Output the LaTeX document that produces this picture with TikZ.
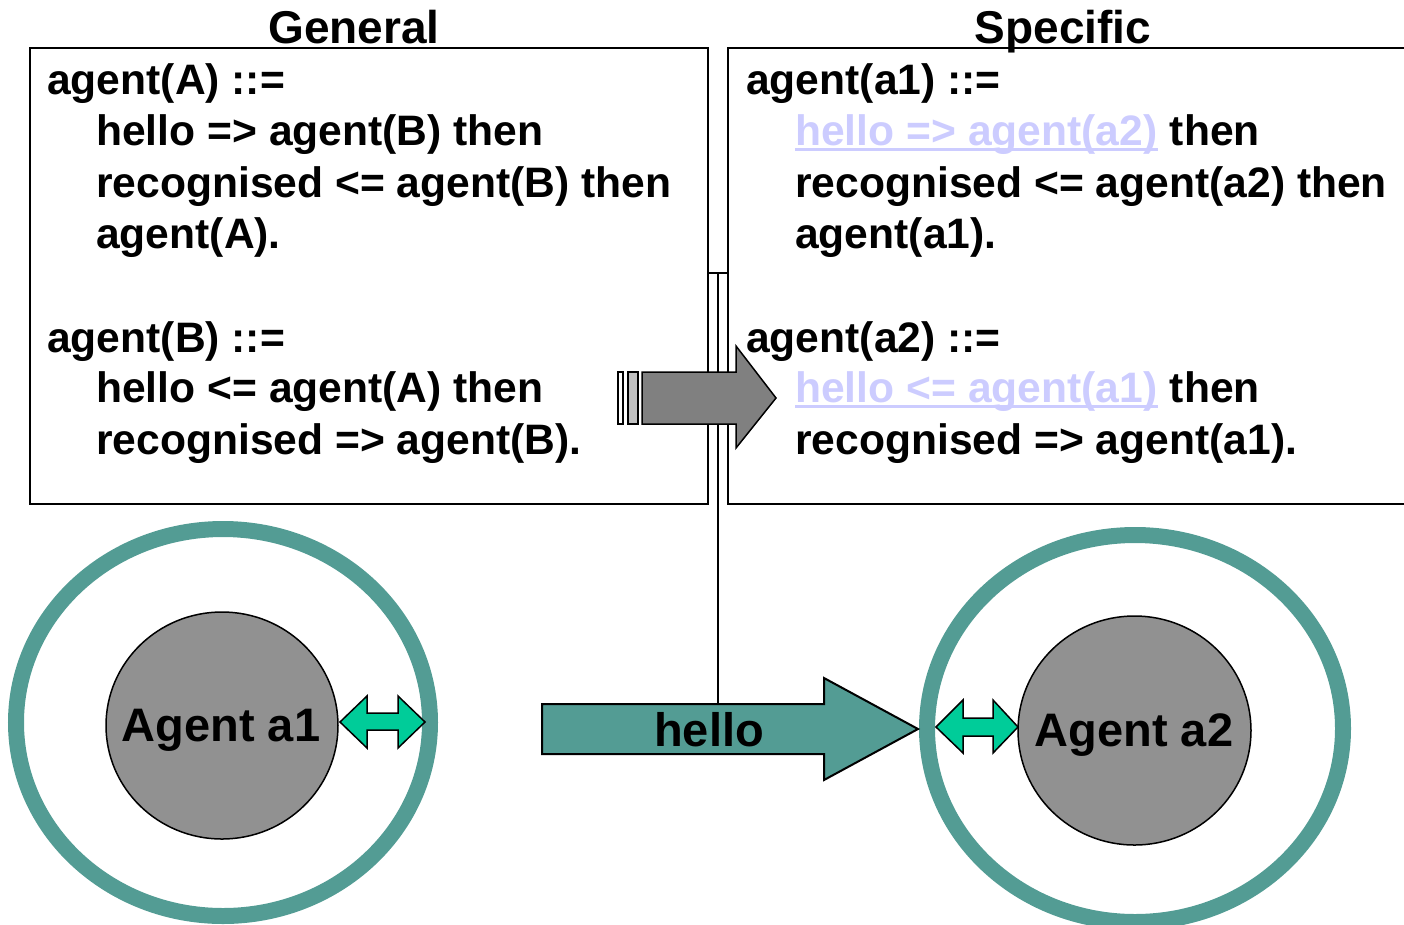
\documentclass[tikz,border=0pt]{standalone}
\usepackage{fontspec}
\setmainfont{Liberation Sans}
\usepackage{tikz}
\usepackage{xcolor}

\definecolor{teal}{RGB}{83,156,148}
\definecolor{mint}{RGB}{0,204,153}
\definecolor{agentgrey}{RGB}{145,145,145}
\definecolor{arrowgrey}{RGB}{128,128,128}
\definecolor{stripegrey}{RGB}{192,192,192}
\definecolor{lavender}{RGB}{204,204,255}

\tikzset{
    code/.style={font=\fontsize{42.6}{50}\selectfont\bfseries, anchor=base west, inner sep=0pt},
    heading/.style={font=\fontsize{46}{54}\selectfont\bfseries, anchor=base, inner sep=0pt},
    agentname/.style={font=\fontsize{47}{56}\selectfont\bfseries, inner sep=0pt, text depth=0pt},
    spec/.style={draw=black, line width=2pt},
    swap/.style={draw=black, line width=1.5pt, fill=mint},
}

\begin{document}
\begin{tikzpicture}[x=1pt, y=-1pt]
    \useasboundingbox (0,0) rectangle (1404,924);

    % the two program boxes
    \draw[spec] (30,48) rectangle (708,504);
    \draw[spec] (728,48) rectangle (1420,504);
    \node[heading] (general) at (354,43) {General};
    \node[heading] (specific) at (1063,43) {Specific};

    % link from the boxes down to the message
    \coordinate (joinL) at (708,273);
    \coordinate (joinR) at (728,273);
    \coordinate (join) at (718,273);
    \coordinate (msgtop) at (718,704);
    \draw[line width=2pt] (joinL) -- (joinR);
    \draw[line width=2pt] (join) -- (msgtop);

    % general agents
    \node[code] (gA) at (47,94) {agent(A) ::=};
    \node[code] (gA1) at (96,145) {hello => agent(B) then};
    \node[code] (gA2) at (96,197) {recognised <= agent(B) then};
    \node[code] (gA3) at (96,248) {agent(A).};
    \node[code] (gB) at (47,352) {agent(B) ::=};
    \node[code] (gB1) at (96,402) {hello <= agent(A) then};
    \node[code] (gB2) at (96,454) {recognised => agent(B).};

    % specific agents
    \node[code] (sA) at (746,94) {agent(a1) ::=};
    \node[code, lavender] (sA1) at (795,145) {hello => agent(a2)};
    \node[code] (sA1t) at ([xshift=12pt]sA1.base east) {then};
    \node[code] (sA2) at (795,197) {recognised <= agent(a2) then};
    \node[code] (sA3) at (795,248) {agent(a1).};
    \node[code] (sB) at (746,352) {agent(a2) ::=};
    \node[code, lavender] (sB1) at (795,402) {hello <= agent(a1)};
    \node[code] (sB1t) at ([xshift=12pt]sB1.base east) {then};
    \node[code] (sB2) at (795,454) {recognised => agent(a1).};
    \draw[lavender, line width=3pt] ([yshift=-4pt]sA1.base west) -- ([yshift=-4pt]sA1.base east);
    \draw[lavender, line width=3pt] ([yshift=-4pt]sB1.base west) -- ([yshift=-4pt]sB1.base east);

    % instantiation arrow
    \draw[line width=1.5pt, fill=white] (618,372) rectangle (623,424);
    \draw[line width=1.5pt, fill=stripegrey] (628,372) rectangle (638,424);
    \draw[line width=1.5pt, fill=arrowgrey] (642,372) -- (736,372) -- (736,346) -- (776,398)
        -- (736,448) -- (736,424) -- (642,424) -- cycle;

    % agent a1
    \draw[teal, line width=16pt] (223,722.5) ellipse [x radius=207, y radius=193.5];
    \draw[line width=1.5pt, fill=agentgrey] (222,725.5) ellipse [x radius=116, y radius=113.5];
    \node[agentname] (a1) at (221,725.5) {Agent a1};
    \draw[swap] (340,722) -- (367,696) -- (367,713) -- (398,713) -- (398,696) -- (425,722)
        -- (398,748) -- (398,730) -- (367,730) -- (367,748) -- cycle;

    % agent a2
    \draw[teal, line width=16pt] (1135,728.5) ellipse [x radius=208, y radius=193.5];
    \draw[line width=1.5pt, fill=agentgrey] (1134.5,730.5) ellipse [x radius=116.5, y radius=114.5];
    \node[agentname] (a2) at (1134,730.5) {Agent a2};
    \draw[swap] (936,727) -- (963,700) -- (963,718) -- (993,718) -- (993,700) -- (1018,727)
        -- (993,753) -- (993,736) -- (963,736) -- (963,753) -- cycle;

    % the hello message
    \draw[line width=2pt, fill=teal] (542,704) -- (824,704) -- (824,678) -- (918,729)
        -- (824,780) -- (824,754) -- (542,754) -- cycle;
    \node[agentname] (hello) at (709,729) {hello};
\end{tikzpicture}
\end{document}
